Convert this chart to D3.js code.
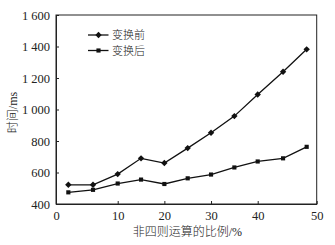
<!DOCTYPE html>
<html>
<head>
<meta charset="utf-8">
<script src="https://cdn.jsdelivr.net/npm/d3@7"></script>
<style>
  body { margin: 0; background: #fff; }
  svg text { fill: #222; }
  .num { font-family: "Liberation Serif", "Times New Roman", "DejaVu Serif", serif; }
  .cjk { font-family: "Noto Sans CJK SC", sans-serif; font-weight: 300; }
</style>
</head>
<body>
<div id="chart"></div>
<script>
// Data
const ratio = [2, 6, 10, 15, 20, 25, 30, 35, 40, 44.3, 48.3];
const before = [522, 522, 590, 690, 660, 755, 852, 958, 1095, 1240, 1382];
const after = [474, 490, 530, 555, 527, 563, 587, 632, 670, 690, 763];
const seriesNames = ["变换前", "变换后"];
const xTicks = [0, 10, 20, 30, 40, 50];
const yTicks = [400, 600, 800, 1000, 1200, 1400, 1600];

const width = 335;
const height = 245;
const margin = { top: 15, right: 18.3, bottom: 41, left: 56 };

const svg = d3.select("#chart")
    .append("svg")
    .attr("width", width)
    .attr("height", height);

// The original x axis is not evenly spaced: ends are stretched
const x = d3.scaleLinear()
    .domain([0, 10, 40, 50])
    .range([margin.left, 117.7, 257.7, width - margin.right]);

const y = d3.scaleLinear()
    .domain([400, 1600])
    .range([height - margin.bottom, margin.top]);

// frame
svg.append("rect")
    .attr("x", margin.left)
    .attr("y", margin.top)
    .attr("width", x(50) - margin.left)
    .attr("height", y(400) - y(1600))
    .attr("fill", "none")
    .attr("stroke", "#222")
    .attr("stroke-width", 1);

// axes, ticks pointing inward
const xAxis = svg.append("g")
    .attr("transform", `translate(0, ${y(400)})`)
    .call(d3.axisBottom(x).tickValues(xTicks).tickSizeInner(-3).tickSizeOuter(0).tickPadding(7));

const yAxis = svg.append("g")
    .attr("transform", `translate(${margin.left}, 0)`)
    .call(d3.axisLeft(y).tickValues(yTicks).tickSizeInner(-3).tickSizeOuter(0).tickPadding(6)
        .tickFormat(d => d >= 1000 ? Math.floor(d / 1000) + " " + d3.format("03d")(d % 1000) : d));

[xAxis, yAxis].forEach(g => {
    g.attr("font-family", null).attr("font-size", null);
    g.select(".domain").attr("stroke", "#222");
    g.selectAll(".tick line").attr("stroke", "#222");
    g.selectAll(".tick text")
        .attr("class", "num")
        .style("font-size", "12.5px")
        .attr("fill", "#222");
});

// axis titles
const xTitle = svg.append("text")
    .attr("x", (margin.left + x(50)) / 2 + 1)
    .attr("y", 236)
    .attr("text-anchor", "middle")
    .style("font-size", "12px");
xTitle.append("tspan").attr("class", "cjk").text("非四则运算的比例");
xTitle.append("tspan").attr("class", "num").text("/%");

const yTitle = svg.append("text")
    .attr("transform", `translate(17, ${(margin.top + y(400)) / 2 + 3}) rotate(-90)`)
    .attr("text-anchor", "middle")
    .style("font-size", "12px");
yTitle.append("tspan").attr("class", "cjk").text("时间");
yTitle.append("tspan").attr("class", "num").text("/ms");

// lines
const line = d3.line()
    .x((d, i) => x(ratio[i]))
    .y(d => y(d));

const diamond = d3.symbol().type(d3.symbolDiamond2).size(26);
const square = d3.symbol().type(d3.symbolSquare2).size(22);

[[before, diamond], [after, square]].forEach(([vals, sym]) => {
    svg.append("path")
        .datum(vals)
        .attr("fill", "none")
        .attr("stroke", "#111")
        .attr("stroke-width", 1.3)
        .attr("d", line);

    svg.selectAll(null)
        .data(vals)
        .join("path")
        .attr("transform", (d, i) => `translate(${x(ratio[i])}, ${y(d)})`)
        .attr("d", sym)
        .attr("fill", "#111");
});

// legend
const legend = svg.append("g");
seriesNames.forEach((name, i) => {
    const ly = 35 + i * 15.5;
    legend.append("line")
        .attr("x1", 88).attr("x2", 108.5)
        .attr("y1", ly).attr("y2", ly)
        .attr("stroke", "#111")
        .attr("stroke-width", 1.3);
    legend.append("path")
        .attr("transform", `translate(98.5, ${ly})`)
        .attr("d", i === 0 ? diamond : square)
        .attr("fill", "#111");
    legend.append("text")
        .attr("class", "cjk")
        .attr("x", 112)
        .attr("y", ly + 4)
        .style("font-size", "11px")
        .text(name);
});
</script>
</body>
</html>
